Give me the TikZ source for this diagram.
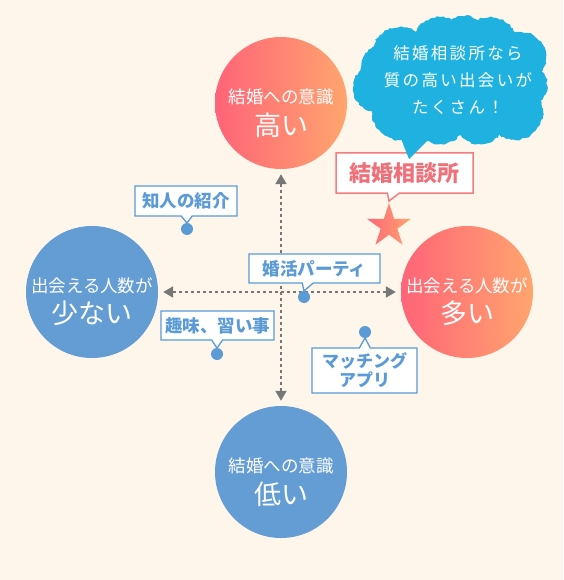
\documentclass[tikz,border=0pt]{standalone}
\usepackage{fontspec}
\newfontfamily\jp{Noto Sans CJK JP}
\newfontfamily\jpspaced[LetterSpace=14]{Noto Sans CJK JP}
\usetikzlibrary{shapes.geometric,shapes.callouts,arrows.meta,decorations.pathmorphing}
\definecolor{bgc}{HTML}{FEF6EA}
\definecolor{cblue}{HTML}{649CD4}
\definecolor{lblue}{HTML}{5B9BD5}
\definecolor{cpink}{HTML}{FF6478}
\definecolor{corange}{HTML}{FFA56E}
\definecolor{axgray}{HTML}{777777}
\definecolor{cloudc}{HTML}{1FB2E0}
\definecolor{ptext}{HTML}{F0707A}
\definecolor{pborder}{HTML}{F57C80}
\begin{document}
\begin{tikzpicture}[x=1pt,y=-1pt,
  bigcirc/.style={circle, minimum size=132pt, inner sep=0pt, draw=none},
  warm/.style={bigcirc, left color=cpink, right color=corange},
  cool/.style={bigcirc, fill=cblue},
  smalltxt/.style={text=white, font=\jp\fontsize{17.5}{19}\selectfont, inner sep=0pt},
  bigtxt/.style={text=white, font=\jp\fontsize{27}{29}\selectfont, inner sep=0pt},
  tag/.style={rectangle callout, draw=lblue, line width=1.3pt, fill=white, text=lblue,
    font=\jp\bfseries\fontsize{17.5}{20}\selectfont, inner sep=0pt, align=center,
    callout pointer width=11pt},
  dotc/.style={circle, fill=lblue, minimum size=12pt, inner sep=0pt},
  axis/.style={draw=axgray, line width=2pt, dash pattern=on 3pt off 3pt,
    {Triangle[length=10pt,width=11pt]}-{Triangle[length=10pt,width=11pt]},
    shorten <=5pt, shorten >=5pt},
  cloudpart/.style={fill=cloudc, decorate, decoration={random steps, segment length=2.5pt, amplitude=1pt}},
  cloudtxt/.style={text=white, font=\jpspaced\fontsize{16.5}{27}\selectfont, align=center, inner sep=0pt}
]
\useasboundingbox (0,0) rectangle (563,580);
\fill[bgc] (0,0) rectangle (563,580);

% circles
\node[warm] (top) at (281,103) {};
\node[cool] (left) at (92,292) {};
\node[warm] (right) at (467,292) {};
\node[cool] (bottom) at (281,472) {};

\node[smalltxt] (top1) at (281,97) {結婚への意識};
\node[bigtxt] (top2) at (281,125) {高い};
\node[smalltxt] (left1) at (92,286) {出会える人数が};
\node[bigtxt] (left2) at (92,313) {少ない};
\node[smalltxt] (right1) at (467,286) {出会える人数が};
\node[bigtxt] (right2) at (467,313) {多い};
\node[smalltxt] (bot1) at (281,466) {結婚への意識};
\node[bigtxt] (bot2) at (281,494) {低い};

% axes
\draw[axis] (left) -- (right);
\draw[axis] (top) -- (bottom);

% dots
\node[dotc] (d1) at (187,229) {};
\node[dotc] (d2) at (304,297) {};
\node[dotc] (d3) at (217,354) {};
\node[dotc] (d4) at (365,332) {};

% tags
\node[tag, minimum width=102pt, minimum height=30pt, callout absolute pointer={(187,223)}] (t1) at (186,201) {知人の紹介};
\node[tag, minimum width=131pt, minimum height=29pt, callout absolute pointer={(304,291)}] (t2) at (314.5,268.5) {婚活パーティ};
\node[tag, minimum width=113pt, minimum height=29pt, callout absolute pointer={(217,348)}] (t3) at (217.5,325.5) {趣味、習い事};
\node[tag, minimum width=105pt, minimum height=45pt, callout absolute pointer={(365,338)}, font=\jp\bfseries\fontsize{17}{19}\selectfont] (t4) at (364.5,370.5) {マッチング\\アプリ};

% star and agency tag
\node[star, star points=5, star point ratio=2.618, minimum size=46pt, inner sep=0pt, left color=cpink, right color=corange] (star) at (389,226) {};
\node[rectangle callout, draw=pborder, line width=1.5pt, fill=white, text=ptext,
  font=\jp\bfseries\fontsize{22}{24}\selectfont, inner sep=0pt,
  minimum width=137pt, minimum height=40pt, callout pointer width=12pt,
  callout absolute pointer={(389,201)}] (agency) at (404.5,173) {結婚相談所};

% cloud
\fill[cloudpart] (452,82) ellipse [x radius=78pt, y radius=50pt];
\foreach \cx/\cy/\r in {400/55/28, 440/45/28, 490/45/28, 520/58/26, 525/85/22, 515/112/28,
  480/118/26, 440/118/26, 400/112/28, 377/88/24, 385/68/24, 465/40/24} {
  \fill[cloudpart] (\cx,\cy) circle [radius=\r pt];
}
\coordinate (tailtip) at (409,159);
\fill[cloudc] (396,126) -- (tailtip) -- (432,136) -- cycle;
\node[cloudtxt] (cloudtext) at (458,80) {結婚相談所なら\\質の高い出会いが\\たくさん！};
\end{tikzpicture}
\end{document}
